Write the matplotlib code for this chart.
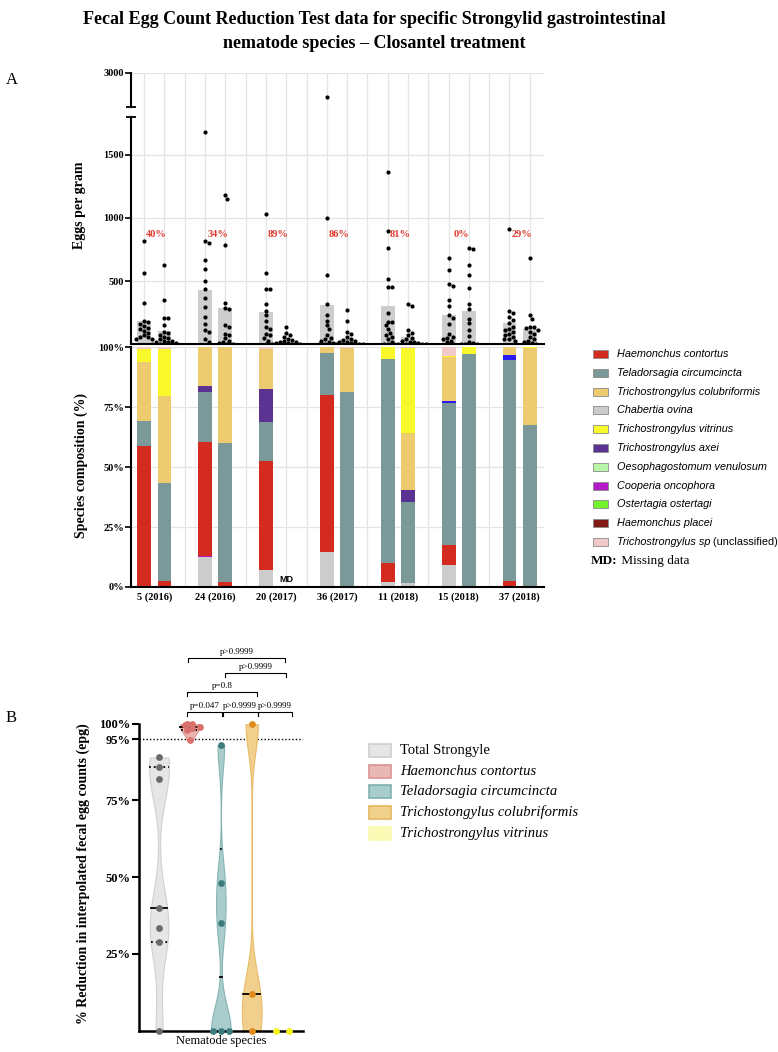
import numpy as np
import matplotlib
matplotlib.use('Agg')
import matplotlib.pyplot as plt
from matplotlib.patches import Rectangle
from matplotlib.transforms import blended_transform_factory

W, H = 778, 1052
SERIF = 'Liberation Serif'
SANS = 'Liberation Sans'

# ---------------- panel A data ----------------
groups = ['5 (2016)', '24 (2016)', '20 (2017)', '36 (2017)', '11 (2018)', '15 (2018)', '37 (2018)']
reduction = ['40%', '34%', '89%', '86%', '81%', '0%', '29%']

# mean eggs per gram (bars), pre and post treatment
mean_pre = [184, 429, 253, 310, 302, 231, 168]
mean_post = [107, 284, 26, 44, 55, 265, 123]

# individual animals, eggs per gram
epg_pre = [
    [815, 565, 330, 185, 175, 160, 145, 130, 120, 105, 90, 70, 60, 55, 45, 40],
    [1680, 815, 800, 665, 597, 500, 434, 365, 292, 218, 160, 110, 100, 40, 15],
    [1030, 565, 435, 435, 315, 265, 230, 185, 140, 120, 80, 70, 50, 30, 0],
    [2710, 1000, 545, 315, 230, 185, 150, 120, 70, 50, 40, 30, 20, 10, 5, 0, 0],
    [1360, 900, 765, 515, 450, 450, 250, 180, 175, 150, 120, 90, 70, 60, 40, 20, 5, 0],
    [685, 585, 480, 465, 350, 300, 230, 210, 160, 80, 60, 50, 40, 30, 15, 0],
    [915, 265, 250, 215, 190, 165, 140, 120, 110, 100, 85, 70, 60, 45, 40, 30],
]
epg_post = [
    [630, 350, 205, 205, 150, 100, 90, 75, 60, 50, 40, 30, 25, 20, 15, 10, 5, 0],
    [1180, 1150, 785, 330, 290, 280, 150, 140, 85, 70, 50, 30, 20, 10, 5, 0],
    [140, 90, 75, 60, 45, 35, 25, 20, 15, 10, 10, 5, 5, 0],
    [270, 185, 95, 80, 60, 45, 35, 30, 20, 15, 10, 5, 5, 0, 0],
    [315, 305, 110, 90, 70, 50, 40, 30, 20, 15, 10, 5, 5, 0, 0, 0],
    [765, 750, 630, 545, 445, 315, 280, 200, 165, 115, 65, 15, 10, 5, 0, 0],
    [685, 230, 200, 135, 135, 130, 110, 95, 80, 60, 40, 30, 15, 10, 5],
]

# species composition (%), 14 bars: pre/post for each group (20 (2017) post = missing)
chabertia = [0, 0.5, 12.5, 0, 7.2, 0, 14.5, 0, 1.9, 1.8, 9.0, 0, 0, 0]
cooperia = [0, 0, 0.6, 0, 0, 0, 0, 0, 0, 0, 0, 0, 0, 0]
haemonchus = [58.8, 1.9, 47.4, 1.9, 45.5, 0, 65.6, 0, 8.1, 0, 8.4, 0, 2.6, 0]
teladorsagia = [10.3, 41.0, 21.0, 58.3, 16.1, 0, 17.7, 81.4, 85.0, 33.8, 59.5, 97.2, 92.0, 67.6]
unlisted = [0, 0, 0, 0, 0, 0, 0, 0, 0, 0, 0.8, 0, 2.2, 0]
axei = [0, 0, 2.5, 0, 14.0, 0, 0, 0, 0, 5.0, 0, 0, 0, 0]
colubriformis = [24.8, 36.4, 16.0, 39.8, 16.5, 0, 2.2, 18.1, 0.3, 23.8, 18.1, 0, 3.2, 31.9]
vitrinus = [5.4, 19.5, 0, 0, 0, 0, 0, 0, 4.7, 35.1, 0.4, 2.8, 0, 0.5]
trich_sp = [0.7, 0.7, 0, 0, 0.7, 0, 0, 0.5, 0, 0.5, 3.8, 0, 0, 0]

C_HC, C_TC, C_COL, C_CO = '#d42b20', '#7a9998', '#edcc6f', '#cccccc'
C_TV, C_TA, C_OV, C_COO = '#f8f82a', '#5b3393', '#b9f5a8', '#b31bc6'
C_OO, C_HP, C_TSP, C_BLUE = '#73f32c', '#801a15', '#f2c9c9', '#2a1af2'

stack = [(chabertia, C_CO), (cooperia, C_COO), (haemonchus, C_HC), (teladorsagia, C_TC),
         (unlisted, C_BLUE), (axei, C_TA), (colubriformis, C_COL), (vitrinus, C_TV),
         (trich_sp, C_TSP)]

legend_a = [('Haemonchus contortus', C_HC), ('Teladorsagia circumcincta', C_TC),
            ('Trichostrongylus colubriformis', C_COL), ('Chabertia ovina', C_CO),
            ('Trichostrongylus vitrinus', C_TV), ('Trichostrongylus axei', C_TA),
            ('Oesophagostomum venulosum', C_OV), ('Cooperia oncophora', C_COO),
            ('Ostertagia ostertagi', C_OO), ('Haemonchus placei', C_HP),
            ('Trichostrongylus sp', C_TSP)]

# ---------------- panel B data ----------------
species_b = ['Total Strongyle', 'Haemonchus contortus', 'Teladorsagia circumcincta',
             'Trichostongylus colubriformis', 'Trichostrongylus vitrinus']
red_total = [89, 86, 82, 40, 33.5, 29, 0]
red_hc = [100, 100, 99.5, 99, 98.5, 97.8, 94.6]
red_tc = [93, 48, 35, 0, 0, 0]
red_col = [100, 12, 0]
red_tv = [0, 0]
comparisons = [(1, 2, 'p=0.047'), (2, 3, 'p>0.9999'), (3, 4, 'p>0.9999'),
               (1, 3, 'p=0.8'), (2, 4, 'p>0.9999'), (1, 4, 'p>0.9999')]


def box(l, t, r, b):
    return [l / W, 1 - b / H, (r - l) / W, (b - t) / H]


def swarm(ys, diam):
    cands = [0.0]
    for k in range(1, 40):
        cands += [k * diam / 2, -k * diam / 2]
    placed, offs = [], []
    for y in ys:
        for c in cands:
            if all((c - px) ** 2 + (y - py) ** 2 >= diam ** 2 for px, py in placed):
                break
        placed.append((c, y))
        offs.append(c)
    return np.array(offs)


fig = plt.figure(figsize=(W / 100, H / 100), dpi=100)

fig.text(374.5 / W, 1 - 19 / H,
         'Fecal Egg Count Reduction Test data for specific Strongylid gastrointestinal',
         ha='center', va='center', family=SERIF, weight='bold', fontsize=13)
fig.text(374.5 / W, 1 - 43 / H, 'nematode species \u2013 Closantel treatment',
         ha='center', va='center', family=SERIF, weight='bold', fontsize=13)
fig.text(6 / W, 1 - 80 / H, 'A', family=SERIF, fontsize=12, va='center')
fig.text(6 / W, 1 - 718 / H, 'B', family=SERIF, fontsize=12, va='center')

# ---------------- A: eggs per gram (broken axis) ----------------
K_GAP, K_UP = 79 / 800, 0.6725


def fwd(y):
    y = np.asarray(y, float)
    return np.where(y <= 1800, y, np.where(y < 2600, 1800 + (y - 1800) * K_GAP,
                                           1879 + (y - 2600) * K_UP))


def inv(u):
    u = np.asarray(u, float)
    return np.where(u <= 1800, u, np.where(u < 1879, 1800 + (u - 1800) / K_GAP,
                                           2600 + (u - 1879) / K_UP))


ax1 = fig.add_axes(box(131, 72.7, 544, 344.3))
ax1.set_yscale('function', functions=(fwd, inv))
ax1.set_ylim(0, 3000)
ax1.set_xlim(-0.65, 19.7)
PX_Y = 271.6 / float(fwd(3000))
PX_X = 20.3

for g in range(7):
    for k, (means, pts) in enumerate([(mean_pre, epg_pre), (mean_post, epg_post)]):
        xc = 3 * g + k
        ax1.bar(xc, means[g], width=0.68, color='#cdcdcd', zorder=2)
        ys = fwd(pts[g]) * PX_Y
        off = swarm(ys, 4.0) / PX_X
        ax1.scatter(xc + off, pts[g], s=9, color='black', zorder=3, linewidths=0)
    ax1.text(3 * g + 0.62, 870, reduction[g], color='#e03a2e', family=SERIF,
             weight='bold', fontsize=7.5, ha='center', va='center', zorder=4)

ax1.set_yticks([500, 1000, 1500, 3000])
ax1.set_yticklabels(['500', '1000', '1500', '3000'], family=SERIF, weight='bold', fontsize=7.5)
ax1.set_xticks([])
ax1.set_xticks(np.arange(20), minor=True)
ax1.grid(axis='y', color='#e4e4e4', lw=0.9, zorder=0)
ax1.grid(axis='x', which='minor', color='#e4e4e4', lw=0.9, zorder=0)
ax1.tick_params(axis='y', length=4, width=1.2, pad=1)
ax1.tick_params(axis='x', which='minor', length=0)
for s in ['top', 'right']:
    ax1.spines[s].set_visible(False)
ax1.spines['left'].set_bounds(0, 1800)
ax1.spines['left'].set_linewidth(1.5)
ax1.spines['bottom'].set_linewidth(1.5)
tr = blended_transform_factory(ax1.transAxes, ax1.transData)
ax1.plot([0, 0], [2600, 3000], color='black', lw=1.5, transform=tr, clip_on=False)
ax1.plot([0, 0], [1800, 2600], ls='none', marker='_', ms=7, mew=1.3, color='black',
         transform=tr, clip_on=False)
ax1.set_ylabel('Eggs per gram', family=SERIF, weight='bold', fontsize=10)
ax1.yaxis.set_label_coords((86 - 131) / 413, (344.3 - 205.7) / 271.6)

# ---------------- A: species composition ----------------
ax2 = fig.add_axes(box(131, 347.3, 544, 587))
ax2.set_xlim(-0.65, 19.7)
ax2.set_ylim(0, 100)
xb = [3 * g + k for g in range(7) for k in range(2)]
bottom = np.zeros(14)
for vals, col in stack:
    v = np.array(vals)
    ax2.bar(xb, v, bottom=bottom, width=0.68, color=col, zorder=2, linewidth=0)
    bottom += v
ax2.text(7, 3.2, 'MD', family=SANS, weight='bold', fontsize=6.5, ha='center', va='center')
ax2.set_yticks([0, 25, 50, 75, 100])
ax2.set_yticklabels(['0%', '25%', '50%', '75%', '100%'], family=SERIF, weight='bold', fontsize=7.5)
ax2.set_xticks([3 * g + 0.5 for g in range(7)])
ax2.set_xticklabels(groups, family=SERIF, weight='bold', fontsize=7.5)
ax2.set_xticks(np.arange(20), minor=True)
ax2.grid(axis='y', color='#e4e4e4', lw=0.9, zorder=0)
ax2.grid(axis='x', which='minor', color='#e4e4e4', lw=0.9, zorder=0)
ax2.tick_params(axis='y', length=4, width=1.2, pad=1)
ax2.tick_params(axis='x', which='both', length=0, pad=4)
for s in ['top', 'right']:
    ax2.spines[s].set_visible(False)
ax2.spines['left'].set_linewidth(1.5)
ax2.spines['bottom'].set_linewidth(1.5)
ax2.set_ylabel('Species composition (%)', family=SERIF, weight='bold', fontsize=10)
ax2.yaxis.set_label_coords((88 - 131) / 413, (587 - 465.7) / 239.7)

# legend A
for i, (name, col) in enumerate(legend_a):
    yc = 354 + i * 18.8
    fig.patches.append(Rectangle((593 / W, 1 - (yc + 4) / H), 15 / W, 8 / H,
                                 transform=fig.transFigure, facecolor=col,
                                 edgecolor='#8a8a8a', lw=0.6))
    t = fig.text(617 / W, 1 - yc / H, name, family=SANS, style='italic', fontsize=7.8,
                 va='center')
    if name == 'Trichostrongylus sp':
        ax2.annotate(' (unclassified)', xy=(1, 0.5), xycoords=t, va='center',
                     family=SANS, fontsize=7.8)
yc = 354 + 11 * 18.8
t = fig.text(591 / W, 1 - yc / H, 'MD:', family=SERIF, weight='bold', fontsize=9.5, va='center')
ax2.annotate(' Missing data', xy=(1, 0.5), xycoords=t, va='center', family=SERIF, fontsize=9.5)

# ---------------- B: violins ----------------
ax3 = fig.add_axes(box(139, 723.7, 303, 1030.7))
ax3.set_xlim(-0.65, 4.66)
ax3.set_ylim(0, 100)
PXB_X, PXB_Y = 30.9, 3.07

# data, fill, edge, dot colour, kde bandwidth, dot spacing (px)
violins = [
    (red_total, '#e6e6e6', '#d0d0d0', '#6b6b6b', 10, 7),
    (red_hc, '#ebb3ae', '#dd938e', '#d9706b', 2.0, 5),
    (red_tc, '#a9cdcc', '#86b4b3', '#3e7d7d', 8, 8),
    (red_col, '#f1d08e', '#e8bb66', '#e08a1c', 9, 7),
    (red_tv, '#fafab4', '#fafab4', '#f5f51e', None, 13),
]
for i, (data, face, edge, dot, bw, sp) in enumerate(violins):
    d = np.array(data, float)
    if bw is not None and d.max() > d.min():
        grid = np.linspace(d.min(), d.max(), 300)
        dens = np.exp(-0.5 * ((grid[None, :] - d[:, None]) / bw) ** 2).sum(0)
        half = dens / dens.max() * 0.32
        ax3.fill_betweenx(grid, i - half, i + half, facecolor=face, edgecolor=edge,
                          lw=0.8, zorder=2)
        q1, med, q3 = np.percentile(d, [25, 50, 75], method='weibull')
        for q, ls in [(med, '-'), (q1, ':'), (q3, ':')]:
            if d.min() < q < d.max():
                w = np.interp(q, grid, half)
                ax3.plot([i - w, i + w], [q, q], color='black', lw=1.3, ls=ls, zorder=3)
    off = swarm(d * PXB_Y, sp)
    for v in np.unique(d):
        same = d == v
        if same.sum() > 1:
            off[same] -= off[same].mean()
    ax3.scatter(i + off / PXB_X, d, s=24, color=dot, zorder=4, linewidths=0, clip_on=False)

ax3.axhline(95, color='black', lw=1, ls=(0, (1, 1.5)), zorder=1)
ax3.set_yticks([25, 50, 75, 95, 100])
ax3.set_yticklabels(['25%', '50%', '75%', '95%', '100%'], family=SERIF, weight='bold', fontsize=9)
ax3.set_xticks([])
ax3.tick_params(axis='y', length=5, width=1.5, pad=1)
for s in ['top', 'right']:
    ax3.spines[s].set_visible(False)
ax3.spines['left'].set_linewidth(1.8)
ax3.spines['bottom'].set_linewidth(1.8)
ax3.set_ylabel('% Reduction in interpolated fecal egg counts (epg)', family=SERIF,
               weight='bold', fontsize=10)
ax3.yaxis.set_label_coords((90 - 139) / 164, (1030.7 - 874) / 307)
ax3.set_xlabel('Nematode species', family=SERIF, fontsize=9, labelpad=3)

# significance brackets
bracket_x = [(0.91, 2.04), (2.06, 3.19), (3.21, 4.31), (0.91, 3.16), (2.14, 4.10), (0.94, 4.08)]
bracket_y = [103.7, 103.7, 103.7, 110.2, 116.4, 121.4]
for (i, j, lab), (x1, x2), yb in zip(comparisons, bracket_x, bracket_y):
    ax3.plot([x1, x1, x2, x2], [yb - 1.3, yb, yb, yb - 1.3], color='black', lw=0.8,
             clip_on=False)
    ax3.text((x1 + x2) / 2, yb + 0.8, lab, ha='center', va='bottom', family=SERIF,
             fontsize=6.5, clip_on=False)

# legend B
fill_b = ['#e6e6e6', '#e8b8b4', '#a9cdcc', '#f0d28c', '#fafab4']
edge_b = ['#cfcfcf', '#dc9490', '#7fb0b0', '#e3b860', '#fafab4']
for i, name in enumerate(species_b):
    yc = 750.7 + i * 20.6
    fig.patches.append(Rectangle((369 / W, 1 - (yc + 6.5) / H), 22 / W, 13 / H,
                                 transform=fig.transFigure, facecolor=fill_b[i],
                                 edgecolor=edge_b[i], lw=1.2))
    fig.text(400 / W, 1 - yc / H, name, family=SERIF, fontsize=10.5, va='center',
             style='normal' if i == 0 else 'italic')

fig.savefig('out.png', dpi=100)
